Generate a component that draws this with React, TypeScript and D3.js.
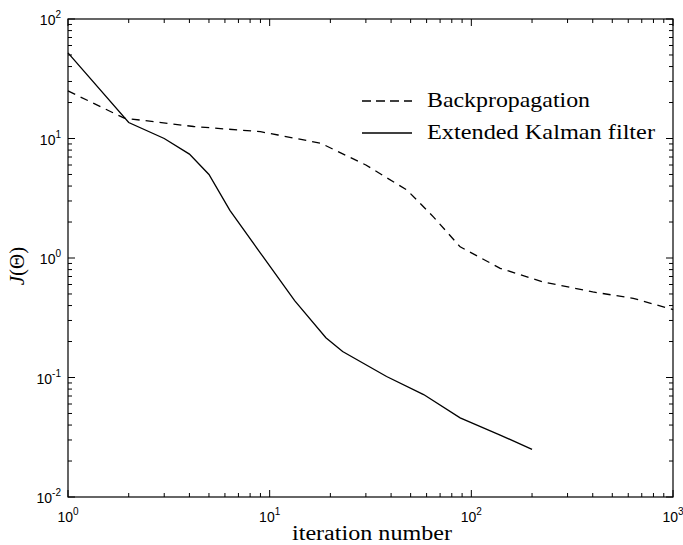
import React from "react";
import * as d3 from "d3";

// Training cost per iteration
const bpIter = [1, 1.9, 4.2, 9, 11, 18, 30, 48, 65, 88, 139, 227, 400, 635, 1000];
const bpCost = [25, 14.8, 12.6, 11.4, 10.7, 9.1, 6.0, 3.7, 2.2, 1.24, 0.82, 0.63, 0.52, 0.46, 0.37];

const ekfIter = [1, 2, 3, 4, 5, 6.35, 9, 13.3, 19, 23, 38, 58, 88, 139, 200];
const ekfCost = [52, 13.6, 10, 7.4, 5.0, 2.5, 1.1, 0.44, 0.215, 0.165, 0.102, 0.072, 0.046, 0.033, 0.025];

const xDecades = [0, 1, 2, 3];
const yDecades = [-2, -1, 0, 1, 2];
const legendLabels = ["Backpropagation", "Extended Kalman filter"];

const W = 683;
const H = 545;
const M = { left: 68, right: 10, top: 19, bottom: 48 };

const sans = "'Liberation Sans', Arial, sans-serif";
const serif = "'Liberation Serif', 'DejaVu Serif', serif";

export default function App() {
  const x = d3.scaleLog().domain([1, 1000]).range([M.left, W - M.right]);
  const y = d3.scaleLog().domain([0.01, 100]).range([H - M.bottom, M.top]);
  const [x0, x1] = x.range();
  const [y0, y1] = y.range();

  const line = d3
    .line<[number, number]>()
    .x((d) => x(d[0]))
    .y((d) => y(d[1]));

  const bp = bpIter.map((n, i) => [n, bpCost[i]] as [number, number]);
  const ekf = ekfIter.map((n, i) => [n, ekfCost[i]] as [number, number]);

  const majorLen = 7;
  const minorLen = 4;

  const xTicks: { v: number; major: boolean }[] = [];
  xDecades.forEach((d, i) => {
    xTicks.push({ v: Math.pow(10, d), major: true });
    if (i < xDecades.length - 1)
      for (let k = 2; k <= 9; k++) xTicks.push({ v: k * Math.pow(10, d), major: false });
  });
  const yTicks: { v: number; major: boolean }[] = [];
  yDecades.forEach((d, i) => {
    yTicks.push({ v: Math.pow(10, d), major: true });
    if (i < yDecades.length - 1)
      for (let k = 2; k <= 9; k++) yTicks.push({ v: k * Math.pow(10, d), major: false });
  });

  const legX0 = 362;
  const legX1 = 412;
  const legTextX = 427;
  const legY = [101, 133];
  const legWidths = [163, 228];

  return (
    <svg width={W} height={H} style={{ display: "block", position: "absolute", left: 0, top: 0 }}>
      <rect x={0} y={0} width={W} height={H} fill="#fff" />
      {/* axes box */}
      <rect x={x0} y={y1} width={x1 - x0} height={y0 - y1} fill="none" stroke="#000" strokeWidth={1.2} />

      {/* ticks on all four sides, pointing inward */}
      {xTicks.map((t, i) => {
        const len = t.major ? majorLen : minorLen;
        const px = x(t.v);
        return (
          <g key={"xt" + i} stroke="#000" strokeWidth={1}>
            <line x1={px} x2={px} y1={y0} y2={y0 - len} />
            <line x1={px} x2={px} y1={y1} y2={y1 + len} />
          </g>
        );
      })}
      {yTicks.map((t, i) => {
        const len = t.major ? majorLen : minorLen;
        const py = y(t.v);
        return (
          <g key={"yt" + i} stroke="#000" strokeWidth={1}>
            <line x1={x0} x2={x0 + len} y1={py} y2={py} />
            <line x1={x1} x2={x1 - len} y1={py} y2={py} />
          </g>
        );
      })}

      {/* x tick labels */}
      {xDecades.map((d) => (
        <text key={"xl" + d} x={x(Math.pow(10, d))} y={522} textAnchor="middle" fontFamily={sans} fontSize={14}>
          10
          <tspan fontSize={10} dy={-7}>
            {d}
          </tspan>
        </text>
      ))}

      {/* y tick labels */}
      {yDecades.map((d) => (
        <text key={"yl" + d} x={x0 - 7} y={y(Math.pow(10, d)) + 6} textAnchor="end" fontFamily={sans} fontSize={14}>
          10
          <tspan fontSize={10} dy={-7}>
            {d}
          </tspan>
        </text>
      ))}

      {/* axis titles */}
      <text
        x={372}
        y={540}
        textAnchor="middle"
        fontFamily={serif}
        fontSize={20}
        textLength={160}
        lengthAdjust="spacingAndGlyphs"
      >
        iteration number
      </text>
      <text
        transform={`translate(24, 266) rotate(-90)`}
        textAnchor="middle"
        fontFamily={serif}
        fontSize={21}
      >
        <tspan fontStyle="italic">J</tspan>(Θ)
      </text>

      {/* curves */}
      <path d={line(bp) ?? ""} fill="none" stroke="#000" strokeWidth={1.3} strokeDasharray="8,6" />
      <path d={line(ekf) ?? ""} fill="none" stroke="#000" strokeWidth={1.3} />

      {/* legend */}
      <line x1={legX0} x2={legX1} y1={legY[0]} y2={legY[0]} stroke="#000" strokeWidth={1.4} strokeDasharray="9,5" />
      <line x1={legX0} x2={legX1} y1={legY[1]} y2={legY[1]} stroke="#000" strokeWidth={1.3} />
      {legendLabels.map((lab, i) => (
        <text
          key={lab}
          x={legTextX}
          y={legY[i] + 6}
          fontFamily={serif}
          fontSize={21}
          textLength={legWidths[i]}
          lengthAdjust="spacingAndGlyphs"
        >
          {lab}
        </text>
      ))}
    </svg>
  );
}
